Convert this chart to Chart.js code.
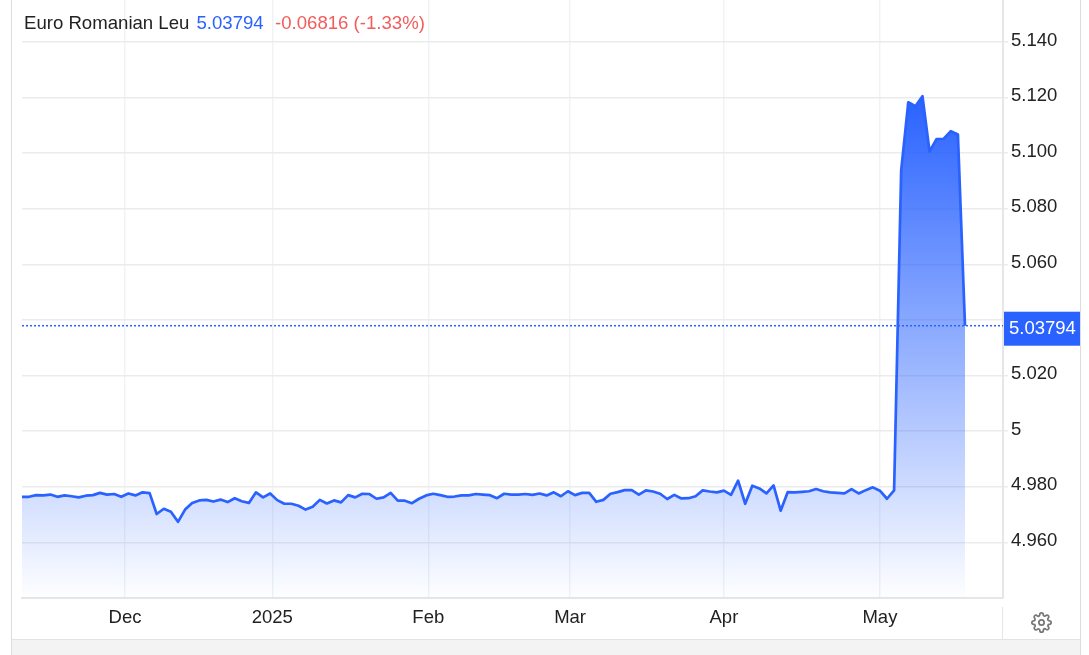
<!DOCTYPE html>
<html>
<head>
<meta charset="utf-8">
<title>Euro Romanian Leu</title>
<script src="https://cdn.jsdelivr.net/npm/chart.js@4/dist/chart.umd.min.js"></script>
<style>
    html, body { margin: 0; padding: 0; background: #fff; overflow: hidden; }
    #wrap { position: relative; width: 1089px; height: 655px; font-family: "Liberation Sans", Arial, sans-serif; }
    #priceChart { position: absolute; left: 0; top: 0; }
    #frameLeft { position: absolute; left: 11px; top: 0; width: 1px; height: 655px; background: #dcdcdc; }
    #frameRight { position: absolute; left: 1080px; top: 0; width: 1px; height: 655px; background: #dcdcdc; }
    #footer { position: absolute; left: 12px; top: 639px; width: 1068px; height: 16px; background: #f3f3f3; border-top: 1px solid #e3e3e3; }
    #sep { position: absolute; left: 1002px; top: 607px; width: 1px; height: 32px; background: #e6e6e6; }
    .head { position: absolute; top: 12px; font-size: 18.6px; line-height: 21px; color: #222; white-space: pre; }
    #headName { left: 24px; }
    #headLast { left: 196.5px; color: #2962ff; }
    #headChg { left: 275px; color: #f45b5b; }
    #gear { position: absolute; left: 1031px; top: 612px; }
</style>
</head>
<body>
<div id="wrap">
    <canvas id="priceChart" width="1089" height="655"></canvas>
    <div id="frameLeft"></div>
    <div id="frameRight"></div>
    <div id="footer"></div>
    <div id="sep"></div>
    <div class="head" id="headName">Euro Romanian Leu</div>
    <div class="head" id="headLast">5.03794</div>
    <div class="head" id="headChg">-0.06816 (-1.33%)</div>
    <svg id="gear" width="21" height="21" viewBox="0 0 24 24" fill="none" stroke="#777" stroke-width="2">
        <circle cx="12" cy="12" r="3"></circle>
        <path d="M19.4 15a1.65 1.65 0 0 0 .33 1.82l.06.06a2 2 0 0 1 0 2.83 2 2 0 0 1-2.83 0l-.06-.06a1.65 1.65 0 0 0-1.82-.33 1.65 1.65 0 0 0-1 1.51V21a2 2 0 0 1-2 2 2 2 0 0 1-2-2v-.09A1.65 1.65 0 0 0 9 19.4a1.65 1.65 0 0 0-1.82.33l-.06.06a2 2 0 0 1-2.83 0 2 2 0 0 1 0-2.83l.06-.06a1.65 1.65 0 0 0 .33-1.82 1.65 1.65 0 0 0-1.51-1H3a2 2 0 0 1-2-2 2 2 0 0 1 2-2h.09A1.65 1.65 0 0 0 4.6 9a1.65 1.65 0 0 0-.33-1.82l-.06-.06a2 2 0 0 1 0-2.83 2 2 0 0 1 2.83 0l.06.06a1.65 1.65 0 0 0 1.82.33H9a1.65 1.65 0 0 0 1-1.51V3a2 2 0 0 1 2-2 2 2 0 0 1 2 2v.09a1.65 1.65 0 0 0 1 1.51 1.65 1.65 0 0 0 1.82-.33l.06-.06a2 2 0 0 1 2.83 0 2 2 0 0 1 0 2.83l-.06.06a1.65 1.65 0 0 0-.33 1.82V9a1.65 1.65 0 0 0 1.51 1H21a2 2 0 0 1 2 2 2 2 0 0 1-2 2h-.09a1.65 1.65 0 0 0-1.51 1z"></path>
    </svg>
</div>
<script>
// EUR/RON closes
const closes = [
    4.9764, 4.9764, 4.9770, 4.9769, 4.9772, 4.9764, 4.9769, 4.9766, 4.9762, 4.9768,
    4.9770, 4.9778, 4.9772, 4.9774, 4.9764, 4.9776, 4.9769, 4.9780, 4.9777, 4.9702,
    4.9721, 4.9710, 4.9674, 4.9718, 4.9742, 4.9751, 4.9753, 4.9747, 4.9754, 4.9745,
    4.9759, 4.9748, 4.9742, 4.9780, 4.9762, 4.9776, 4.9752, 4.9739, 4.9739, 4.9732,
    4.9718, 4.9728, 4.9753, 4.9740, 4.9751, 4.9744, 4.9770, 4.9762, 4.9775, 4.9774,
    4.9757, 4.9762, 4.9778, 4.9750, 4.9750, 4.9741, 4.9757, 4.9769, 4.9775, 4.9770,
    4.9764, 4.9765, 4.9769, 4.9769, 4.9774, 4.9772, 4.9770, 4.9759, 4.9775, 4.9772,
    4.9772, 4.9774, 4.9771, 4.9776, 4.9769, 4.9780, 4.9766, 4.9784, 4.9770, 4.9778,
    4.9778, 4.9746, 4.9753, 4.9775, 4.9781, 4.9788, 4.9788, 4.9772, 4.9787, 4.9783,
    4.9775, 4.9756, 4.9771, 4.9758, 4.9759, 4.9766, 4.9787, 4.9783, 4.9780, 4.9786,
    4.9771, 4.9822, 4.9739, 4.9804, 4.9794, 4.9776, 4.9805, 4.9714, 4.9781, 4.9780,
    4.9782, 4.9784, 4.9792, 4.9784, 4.9780, 4.9778, 4.9776, 4.9792, 4.9776, 4.9788,
    4.9798, 4.9786, 4.9757, 4.9787, 5.0938, 5.1183, 5.1169, 5.1205, 5.1006, 5.1051,
    5.1052, 5.1079, 5.1067, 5.03794
];
const monthLabels = ['Dec', '2025', 'Feb', 'Mar', 'Apr', 'May'];
const monthPositions = [14.53, 35.3, 57.3, 77.3, 99, 121];
const yTicks = [4.96, 4.98, 5, 5.02, 5.04, 5.06, 5.08, 5.1, 5.12, 5.14];
const lastPrice = 5.03794;

const lineBlue = '#2962ff';

const closeData = closes.map(function (v, i) { return { x: i, y: v }; });
const xMax = 138.36;
const lastLine = [{ x: 0, y: lastPrice }, { x: xMax, y: lastPrice }];

// blue price tag on the y axis
const priceTag = {
    id: 'priceTag',
    afterDraw: function (chart) {
        const c = chart.ctx;
        const y = chart.scales.y.getPixelForValue(lastPrice);
        const left = chart.chartArea.right + 1;
        c.save();
        c.fillStyle = lineBlue;
        c.fillRect(left, y - 14, 76, 34);
        c.fillStyle = '#fff';
        c.font = '18.5px "Liberation Sans", Arial, sans-serif';
        c.textAlign = 'left';
        c.textBaseline = 'middle';
        c.fillText('5.03794', left + 5, y + 3);
        c.restore();
    }
};

const ctx = document.getElementById('priceChart').getContext('2d');

new Chart(ctx, {
    type: 'line',
    data: {
        datasets: [{
            data: closeData,
            borderColor: lineBlue,
            borderWidth: 2.7,
            borderJoinStyle: 'round',
            pointRadius: 0,
            tension: 0,
            fill: 'origin',
            backgroundColor: function (context) {
                const area = context.chart.chartArea;
                if (!area) return 'rgba(41,98,255,0.2)';
                const g = context.chart.ctx.createLinearGradient(0, 97, 0, 595);
                g.addColorStop(0, 'rgba(41,98,255,1)');
                g.addColorStop(1, 'rgba(41,98,255,0.01)');
                return g;
            }
        }, {
            data: lastLine,
            borderColor: lineBlue,
            borderWidth: 1.5,
            borderDash: [2, 2],
            pointRadius: 0,
            fill: false
        }]
    },
    plugins: [priceTag],
    options: {
        responsive: false,
        animation: false,
        layout: { padding: { left: 22, top: 0, right: 0, bottom: 0 } },
        plugins: {
            legend: { display: false },
            title: { display: false },
            tooltip: { enabled: false }
        },
        scales: {
            x: {
                type: 'linear',
                min: 0,
                max: xMax,
                afterBuildTicks: function (axis) {
                    axis.ticks = monthPositions.map(function (p) { return { value: p }; });
                },
                afterFit: function (axis) { axis.height = 57; },
                grid: { color: '#eff3f7', lineWidth: 1.5, drawTicks: false },
                border: { color: '#e6e6e6', width: 2 },
                ticks: {
                    autoSkip: false,
                    maxRotation: 0,
                    padding: 9,
                    color: '#222',
                    font: { family: '"Liberation Sans", Arial, sans-serif', size: 18.5 },
                    callback: function (value, index) { return monthLabels[index]; }
                }
            },
            y: {
                position: 'right',
                min: 4.94,
                max: 5.1551,
                afterBuildTicks: function (axis) {
                    axis.ticks = yTicks.map(function (v) { return { value: v }; });
                },
                afterFit: function (axis) {
                    axis.width = 86;
                    // no room reserved above the top label, the grid runs up to the page edge
                    axis.paddingTop = 0;
                    axis.paddingBottom = 0;
                },
                grid: { color: '#ebebeb', lineWidth: 1.5, tickLength: 5 },
                border: { color: '#e6e6e6', width: 2 },
                ticks: {
                    autoSkip: false,
                    padding: 3,
                    labelOffset: -1.5,
                    color: '#222',
                    font: { family: '"Liberation Sans", Arial, sans-serif', size: 18.5 },
                    callback: function (value) {
                        // 5.040 sits under the price tag
                        if (value === 5.04) return '';
                        return value === 5 ? '5' : value.toFixed(3);
                    }
                }
            }
        }
    }
});
</script>
</body>
</html>
